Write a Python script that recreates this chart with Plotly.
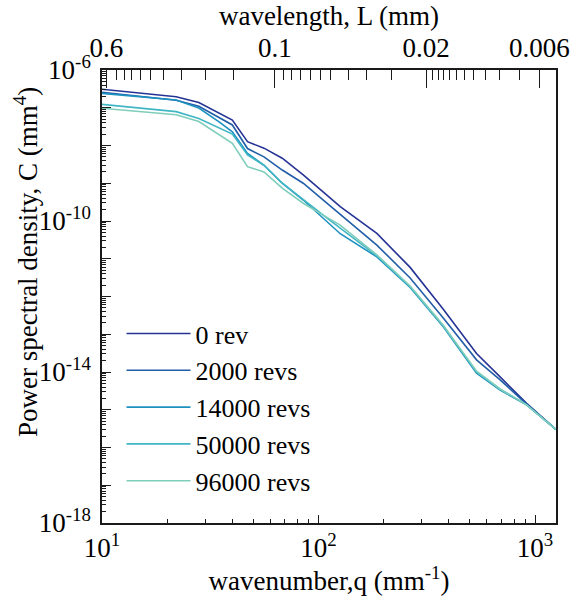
import math
import plotly.graph_objects as go

# wavenumber q (mm^-1)
q = [10, 22, 28, 35, 40, 47, 56, 68, 85, 110, 126, 186, 265, 377, 537, 690, 915, 1250]

# power spectral density C (mm^4)
c_0rev = [3.1e-7, 1.95e-7, 1.38e-7, 6.9e-8, 4.7e-8, 1.26e-8, 8.5e-9, 4.6e-9, 1.66e-9,
          4.7e-10, 2.4e-10, 4.7e-11, 5.9e-12, 4.6e-13, 3.1e-14, 7.4e-15, 1.48e-15, 3.0e-16]
c_2000 = [2.57e-7, 1.58e-7, 1.10e-7, 5.4e-8, 3.5e-8, 8.3e-9, 5.0e-9, 2.24e-9, 1.0e-9,
          2.9e-10, 1.5e-10, 2.3e-11, 3.1e-12, 2.7e-13, 2.1e-14, 6.2e-15, 1.41e-15, 3.0e-16]
c_14000 = [2.4e-7, 1.6e-7, 9.8e-8, 4.1e-8, 2.3e-8, 6.2e-9, 3.0e-9, 1.0e-9, 3.6e-10,
           9.3e-11, 4.6e-11, 1.12e-11, 1.74e-12, 1.58e-13, 9.3e-15, 3.3e-15, 1.35e-15, 3.0e-16]
c_50000 = [1.23e-7, 7.9e-8, 5.2e-8, 2.9e-8, 2.0e-8, 5.6e-9, 3.0e-9, 1.0e-9, 3.6e-10,
           1.17e-10, 6.5e-11, 1.2e-11, 1.82e-12, 1.66e-13, 1.0e-14, 3.5e-15, 1.35e-15, 3.0e-16]
c_96000 = [9.7e-8, 6.5e-8, 4.3e-8, 1.9e-8, 1.15e-8, 2.75e-9, 2.0e-9, 7.4e-10, 2.95e-10,
           1.23e-10, 7.8e-11, 1.26e-11, 1.9e-12, 1.74e-13, 1.05e-14, 3.55e-15, 1.35e-15, 3.0e-16]

names = ["0 rev", "2000 revs", "14000 revs", "50000 revs", "96000 revs"]
series = [c_0rev, c_2000, c_14000, c_50000, c_96000]
colors = ["#253494", "#225ea8", "#1d91c0", "#41b6c4", "#7fcdbb"]

# top axis: wavelength L = 2*pi/q
top_major_L = [0.6, 0.1, 0.02, 0.006]
top_major_text = ["0.6", "0.1", "0.02", "0.006"]
top_minor_L = [0.536, 0.494, 0.457, 0.418, 0.376, 0.326, 0.2685, 0.2096, 0.1551,
               0.0912, 0.0834, 0.0764, 0.0687, 0.0618, 0.0556, 0.0457, 0.0376, 0.0288,
               0.01865, 0.01758, 0.01654, 0.01552, 0.01445, 0.01333, 0.01212, 0.01062,
               0.00912, 0.00743]

x_major = [10, 100, 1000]
x_major_text = ["10<sup>1</sup>", "10<sup>2</sup>", "10<sup>3</sup>"]
y_label_exps = [-18, -14, -10, -6]
y_label_text = ["10<sup>-18</sup>", "10<sup>-14</sup>", "10<sup>-10</sup>", "10<sup>-6</sup>"]
y_title = "Power spectral density, C (mm<sup>4</sup>)"

FAM = "Liberation Serif"
BLACK = "#1a1a1a"
F27 = dict(family=FAM, size=27, color="black")

fig = go.Figure()
for name, c, col in zip(names, series, colors):
    fig.add_trace(go.Scatter(x=q, y=c, mode="lines", name=name,
                             line=dict(color=col, width=1.6)))
# anchor trace for the overlay axes (invisible)
fig.add_trace(go.Scatter(x=q, y=c_0rev, xaxis="x2", yaxis="y2", mode="lines",
                         showlegend=False, hoverinfo="skip", opacity=0,
                         line=dict(width=0.1)))

x_minor = [k * 10 ** e for e in range(1, 4) for k in range(2, 10)]
y_minor = [k * 10.0 ** e for e in range(-18, -6) for k in range(2, 10)]
y_decades = [10.0 ** e for e in range(-18, -5)]

fig.update_layout(
    width=571, height=596,
    margin=dict(l=102, r=15, t=70, b=73),
    paper_bgcolor="white", plot_bgcolor="white",
    font=F27,
    showlegend=True,
    legend=dict(x=0.043, y=0.470, xanchor="left", yanchor="top",
                bgcolor="rgba(0,0,0,0)", font=dict(family=FAM, size=26, color="black"),
                itemwidth=64),
    xaxis=dict(type="log", range=[1, 3.097], showgrid=False, zeroline=False,
               automargin=False, tickfont=F27,
               showline=True, linecolor=BLACK, linewidth=1.5,
               ticks="inside", ticklen=8, tickwidth=1.3, tickcolor=BLACK,
               tickmode="array", tickvals=x_major, ticktext=x_major_text,
               minor=dict(tickmode="array", tickvals=x_minor, ticks="inside",
                          ticklen=4, tickwidth=1.2, tickcolor=BLACK, showgrid=False),
               title=dict(text="wavenumber,q (mm<sup>-1</sup>)", standoff=0, font=F27)),
    xaxis2=dict(type="log", range=[1, 3.097], overlaying="x", side="top", anchor="y",
                automargin=False, tickfont=F27,
                showgrid=False, zeroline=False, showline=True, linecolor=BLACK,
                linewidth=1.5, ticks="inside", ticklen=18, tickwidth=1.3,
                tickcolor=BLACK, tickmode="array",
                tickvals=[2 * math.pi / L for L in top_major_L], ticktext=top_major_text,
                minor=dict(tickmode="array", tickvals=[2 * math.pi / L for L in top_minor_L],
                           ticks="inside", ticklen=10, tickwidth=1.2, tickcolor=BLACK,
                           showgrid=False),
                title=dict(text="wavelength, L (mm)", standoff=0, font=F27)),
    yaxis=dict(type="log", range=[-18, -6], showgrid=False, zeroline=False,
               automargin=False, tickfont=F27,
               showline=True, mirror=True, linecolor=BLACK, linewidth=1.5,
               ticks="inside", ticklen=9, tickwidth=1.3, tickcolor=BLACK,
               tickmode="array", tickvals=[10.0 ** e for e in y_label_exps],
               ticktext=y_label_text, ticklabelstandoff=4,
               minor=dict(tickmode="array", tickvals=y_minor, ticks="inside",
                          ticklen=4.5, tickwidth=1.1, tickcolor=BLACK, showgrid=False)),
    yaxis2=dict(type="log", range=[-18, -6], overlaying="y", side="left", anchor="x",
                automargin=False, showgrid=False, zeroline=False, showline=False,
                showticklabels=False, ticks="inside", ticklen=9, tickwidth=1.3,
                tickcolor=BLACK, tickmode="array", tickvals=y_decades),
)
fig.add_annotation(text=y_title, xref="paper", yref="paper", x=-0.1674, y=0.576,
                   xanchor="center", yanchor="middle", textangle=-90, showarrow=False,
                   font=F27)

fig.write_html("out.html", config={"displayModeBar": False},
               post_script="document.body.style.margin='0';")
